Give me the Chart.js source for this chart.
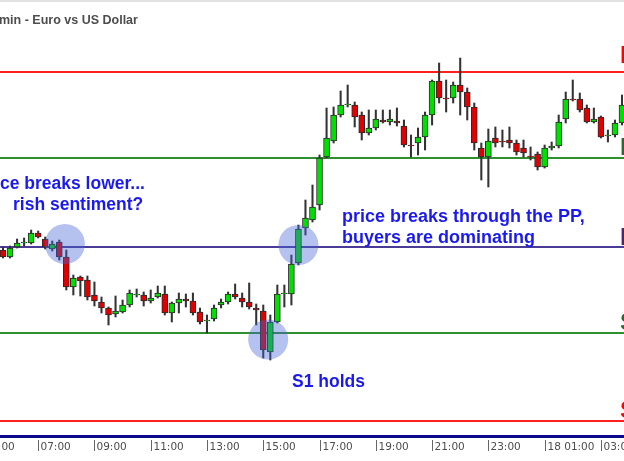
<!DOCTYPE html>
<html>
<head>
<meta charset="utf-8">
<title>EURUSD M15 - pivot points</title>
<script src="https://cdn.jsdelivr.net/npm/chart.js@4.4.1/dist/chart.umd.min.js"></script>
<style>
  html, body { margin: 0; padding: 0; background: #fff; }
  canvas { display: block; }
</style>
</head>
<body>
<canvas id="chart" width="624" height="461"></canvas>
<script>
// 15 min candles, first one is 05:45
const openPrices = [
  1.2997, 1.2990, 1.3000, 1.3004, 1.3004, 1.3014, 1.3008, 1.2998, 1.3005, 1.2990,
  1.2960, 1.2970, 1.2967, 1.2952, 1.2945, 1.2939, 1.2933, 1.2935, 1.2942, 1.2952,
  1.2952, 1.2946, 1.2950, 1.2953, 1.2934, 1.2944, 1.2948, 1.2946, 1.2935, 1.2926,
  1.2928, 1.2942, 1.2945, 1.2953, 1.2949, 1.2945, 1.2939, 1.2936, 1.2895, 1.2925,
  1.2953, 1.2953, 1.2984, 1.3019, 1.3027, 1.3042, 1.3090, 1.3106, 1.3132, 1.3142,
  1.3142, 1.3132, 1.3114, 1.3119, 1.3127, 1.3125, 1.3126, 1.3121, 1.3102, 1.3104,
  1.3110, 1.3132, 1.3166, 1.3149, 1.3149, 1.3162, 1.3155, 1.3140, 1.3099, 1.3090,
  1.3109, 1.3106, 1.3107, 1.3104, 1.3099, 1.3091, 1.3093, 1.3080, 1.3099, 1.3101,
  1.3128, 1.3148, 1.3148, 1.3139, 1.3125, 1.3130, 1.3111, 1.3112, 1.3124
];
const highPrices = [
  1.3000, 1.3001, 1.3008, 1.3009, 1.3017, 1.3016, 1.3010, 1.3006, 1.3007, 1.2997,
  1.2972, 1.2971, 1.2971, 1.2965, 1.2950, 1.2940, 1.2951, 1.2947, 1.2957, 1.2958,
  1.2955, 1.2957, 1.2961, 1.2961, 1.2945, 1.2954, 1.2953, 1.2954, 1.2939, 1.2932,
  1.2942, 1.2948, 1.2955, 1.2963, 1.2954, 1.2964, 1.2943, 1.2942, 1.2932, 1.2962,
  1.2962, 1.2992, 1.3022, 1.3047, 1.3062, 1.3092, 1.3139, 1.3140, 1.3156, 1.3162,
  1.3145, 1.3135, 1.3137, 1.3137, 1.3137, 1.3137, 1.3139, 1.3127, 1.3112, 1.3119,
  1.3135, 1.3167, 1.3184, 1.3167, 1.3165, 1.3189, 1.3159, 1.3144, 1.3104, 1.3118,
  1.3120, 1.3117, 1.3120, 1.3107, 1.3107, 1.3100, 1.3095, 1.3102, 1.3105, 1.3132,
  1.3155, 1.3167, 1.3154, 1.3142, 1.3139, 1.3131, 1.3117, 1.3127, 1.3152
];
const lowPrices = [
  1.2989, 1.2989, 1.2999, 1.3001, 1.3003, 1.3009, 1.2998, 1.2996, 1.2987, 1.2957,
  1.2952, 1.2951, 1.2947, 1.2941, 1.2934, 1.2922, 1.2930, 1.2934, 1.2940, 1.2950,
  1.2941, 1.2944, 1.2949, 1.2932, 1.2925, 1.2934, 1.2940, 1.2932, 1.2923, 1.2914,
  1.2926, 1.2939, 1.2943, 1.2948, 1.2940, 1.2938, 1.2922, 1.2889, 1.2887, 1.2924,
  1.2940, 1.2942, 1.2982, 1.3012, 1.3025, 1.3037, 1.3089, 1.3104, 1.3130, 1.3140,
  1.3120, 1.3107, 1.3112, 1.3117, 1.3124, 1.3122, 1.3121, 1.3100, 1.3090, 1.3092,
  1.3097, 1.3122, 1.3144, 1.3135, 1.3144, 1.3132, 1.3127, 1.3097, 1.3067, 1.3060,
  1.3100, 1.3100, 1.3099, 1.3092, 1.3090, 1.3087, 1.3077, 1.3079, 1.3097, 1.3099,
  1.3124, 1.3146, 1.3135, 1.3124, 1.3124, 1.3109, 1.3105, 1.3110, 1.3122
];
const closePrices = [
  1.2990, 1.2999, 1.3004, 1.3005, 1.3014, 1.3010, 1.3000, 1.3003, 1.2990, 1.2960,
  1.2969, 1.2966, 1.2950, 1.2946, 1.2939, 1.2932, 1.2936, 1.2942, 1.2954, 1.2953,
  1.2946, 1.2949, 1.2954, 1.2934, 1.2944, 1.2948, 1.2946, 1.2934, 1.2925, 1.2927,
  1.2939, 1.2945, 1.2953, 1.2950, 1.2945, 1.2940, 1.2937, 1.2897, 1.2925, 1.2953,
  1.2954, 1.2983, 1.3018, 1.3029, 1.3040, 1.3089, 1.3109, 1.3132, 1.3142, 1.3143,
  1.3130, 1.3114, 1.3119, 1.3128, 1.3125, 1.3128, 1.3124, 1.3102, 1.3101, 1.3110,
  1.3132, 1.3166, 1.3149, 1.3148, 1.3162, 1.3155, 1.3140, 1.3104, 1.3090, 1.3106,
  1.3104, 1.3105, 1.3104, 1.3095, 1.3094, 1.3090, 1.3080, 1.3099, 1.3101, 1.3125,
  1.3148, 1.3147, 1.3137, 1.3125, 1.3128, 1.3110, 1.3112, 1.3124, 1.3142
];

// daily pivot levels
const pivotNames = ['R2', 'R1', 'PP', 'S1', 'S2'];
const pivotLevels = [1.3175, 1.3089, 1.3000, 1.2914, 1.2826];
const pivotColors = ['#ff1f1f', '#2f8f2f', '#4a3c96', '#2f8f2f', '#ff1f1f'];
const pivotLabelColors = ['#ff0000', '#2b6a2b', '#5a1e6e', '#2b6a2b', '#ff0000'];
const pivotLabelLift = [9, 3, 2, 3, 3];

// time axis: candle index and text (05:00 sits just off the left edge)
const timeTickIdx = [-3, 5, 13, 21, 29, 37, 45, 53, 61, 69, 77, 85];
const timeTickText = ['05:00', '07:00', '09:00', '11:00', '13:00', '15:00',
  '17:00', '19:00', '21:00', '23:00', '18 01:00', '03:00'];

// highlighted spots (candle index, price)
const circleIdx = [8.8, 42, 37.7];
const circlePrice = [1.3003, 1.3002, 1.29075];

const notes = [
  { text: 'ce breaks lower...', x: 0, y: 189, size: 17.5 },
  { text: 'rish sentiment?', x: 13, y: 210, size: 17.5 },
  { text: 'price breaks through the PP,', x: 342, y: 222, size: 18 },
  { text: 'buyers are dominating', x: 342, y: 243, size: 18 },
  { text: 'S1 holds', x: 292, y: 387, size: 17.5 }
];

const candleTimes = [];
for (let i = 0; i < openPrices.length; i++) {
  const m = 5 * 60 + 45 + i * 15;
  const h = Math.floor(m / 60) % 24;
  candleTimes.push(String(h).padStart(2, '0') + ':' + String(m % 60).padStart(2, '0'));
}

const bodies = openPrices.map((o, i) => [o, closePrices[i]]);
const wicks = lowPrices.map((l, i) => [l, highPrices[i]]);
const bodyColors = openPrices.map((o, i) => closePrices[i] >= o ? '#00e000' : '#e00000');

const mt4Plugin = {
  id: 'mt4',
  beforeDraw(chart) {
    const { ctx, width, height } = chart;
    ctx.save();
    ctx.fillStyle = '#fff';
    ctx.fillRect(0, 0, width, height);
    ctx.fillStyle = '#e2e2e2';
    ctx.fillRect(0, 0, width, 2);
    ctx.restore();
  },
  beforeDatasetsDraw(chart) {
    const { ctx, width } = chart;
    const y = chart.scales.y;
    ctx.save();
    ctx.lineWidth = 2;
    pivotLevels.forEach((lv, k) => {
      const py = Math.round(y.getPixelForValue(lv));
      ctx.strokeStyle = pivotColors[k];
      ctx.beginPath();
      ctx.moveTo(0, py);
      ctx.lineTo(width, py);
      ctx.stroke();
    });
    ctx.restore();
  },
  afterDatasetsDraw(chart) {
    const { ctx, width } = chart;
    const x = chart.scales.x, y = chart.scales.y;
    const bottom = chart.chartArea.bottom;
    ctx.save();

    // circles
    ctx.fillStyle = 'rgba(70, 100, 215, 0.4)';
    circleIdx.forEach((idx, k) => {
      ctx.beginPath();
      ctx.arc(x.getPixelForValue(idx), y.getPixelForValue(circlePrice[k]), 20, 0, Math.PI * 2);
      ctx.fill();
    });

    // level names at the right edge (mostly cut off)
    ctx.font = 'bold 24px "Liberation Sans"';
    pivotLevels.forEach((lv, k) => {
      ctx.fillStyle = pivotLabelColors[k];
      ctx.fillText(pivotNames[k], 620, Math.round(y.getPixelForValue(lv)) - pivotLabelLift[k]);
    });

    // notes
    ctx.fillStyle = '#1a1af0';
    notes.forEach(n => {
      ctx.font = 'bold ' + n.size + 'px "Liberation Sans"';
      ctx.fillText(n.text, n.x, n.y);
    });

    // title
    ctx.font = 'bold 12.5px "Liberation Sans"';
    ctx.fillStyle = '#4d4d4d';
    ctx.fillText('min - Euro vs US Dollar', -1, 24);

    // time axis
    ctx.fillStyle = '#0a0a8a';
    ctx.fillRect(0, bottom - 1, width, 3);
    ctx.strokeStyle = '#666';
    ctx.lineWidth = 1;
    ctx.font = '10.5px "DejaVu Sans"';
    ctx.fillStyle = '#4d4d4d';
    timeTickIdx.forEach((idx, k) => {
      const px = Math.round(x.getPixelForValue(idx)) + 0.5;
      ctx.beginPath();
      ctx.moveTo(px, bottom + 4);
      ctx.lineTo(px, bottom + 15);
      ctx.stroke();
      ctx.fillText(timeTickText[k], px + 2, bottom + 13.5);
    });
    ctx.restore();
  }
};

new Chart(document.getElementById('chart'), {
  type: 'bar',
  data: {
    labels: candleTimes,
    datasets: [
      {
        label: 'body',
        data: bodies,
        backgroundColor: bodyColors,
        borderColor: '#2a2a2a',
        borderWidth: 1,
        borderSkipped: false,
        barThickness: 6,
        grouped: false,
        clip: false,
        order: 1
      },
      {
        label: 'wick',
        data: wicks,
        backgroundColor: '#333',
        borderWidth: 0,
        barThickness: 1.4,
        grouped: false,
        clip: false,
        order: 2
      }
    ]
  },
  options: {
    responsive: false,
    animation: false,
    layout: { padding: { left: 3, right: 2, top: 0, bottom: 25 } },
    plugins: {
      legend: { display: false },
      tooltip: { enabled: false }
    },
    scales: {
      x: { display: false, offset: false, grid: { offset: false } },
      y: { display: false, min: 1.2811, max: 1.3247 }
    }
  },
  plugins: [mt4Plugin]
});
</script>
</body>
</html>
